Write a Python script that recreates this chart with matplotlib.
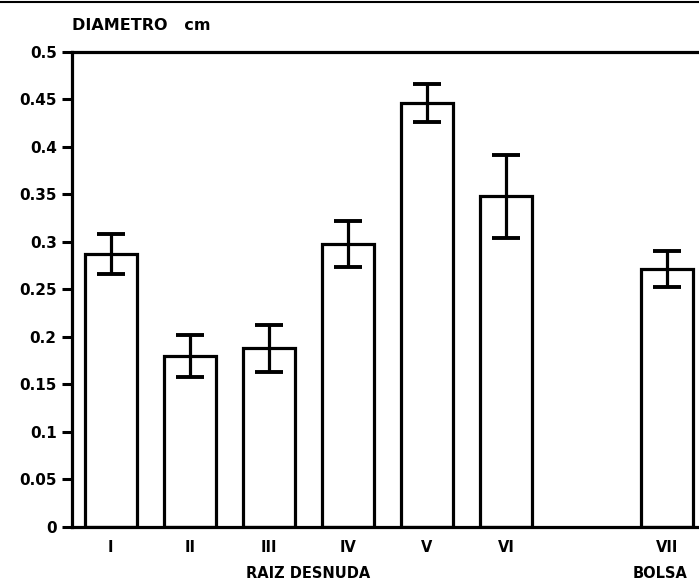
# DIAMETRO DE PLANTAS SEGUN TRATAMIENTO
# BARRAS CON ERROR ESTANDAR

import numpy as np
import matplotlib.pyplot as plt
from matplotlib.lines import Line2D

# DATOS

tratamientos = ["I", "II", "III", "IV", "V", "VI", "VII"]

posiciones = [0, 1, 2, 3, 4, 5, 7.04]

diametro = [0.287, 0.180, 0.188, 0.298, 0.446, 0.348, 0.272]

error = [0.021, 0.022, 0.025, 0.024, 0.020, 0.044, 0.019]

ticks_y = [0, 0.05, 0.1, 0.15, 0.2, 0.25, 0.3, 0.35, 0.4, 0.45, 0.5]

etiquetas_y = ["0", "0.05", "0.1", "0.15", "0.2", "0.25", "0.3",
               "0.35", "0.4", "0.45", "0.5"]

grupos = [("RAIZ DESNUDA", 2.5), ("BOLSA", 6.95)]

# FIGURA

fig = plt.figure(figsize=(6.99, 5.82), dpi=100)

ax = fig.add_axes([0.103, 0.0945, 0.897, 0.8162])

plt.rcParams['font.weight'] = 'bold'

ax.bar(
    posiciones,
    diametro,
    width=0.66,
    color='white',
    edgecolor='black',
    linewidth=2.3,
    zorder=2
)

ax.errorbar(
    posiciones,
    diametro,
    yerr=error,
    fmt='none',
    ecolor='black',
    elinewidth=2.3,
    capsize=10,
    capthick=2.8,
    zorder=3
)

# EJES

ax.set_xlim(-0.49, 7.44)
ax.set_ylim(0, 0.5)

ax.set_yticks(ticks_y)
ax.set_yticklabels(etiquetas_y, fontsize=11, fontweight='heavy')

ax.set_xticks(posiciones)
ax.set_xticklabels(tratamientos, fontsize=10.5, fontweight='heavy')

ax.tick_params(axis='y', direction='out', length=7, width=2.2, pad=4)
ax.tick_params(axis='x', length=0, pad=9)

for lado in ['left', 'bottom', 'top']:
    ax.spines[lado].set_linewidth(2.3)

ax.spines['right'].set_visible(False)

# ETIQUETAS DE GRUPO

for texto, x in grupos:

    ax.text(
        x,
        -0.098,
        texto,
        ha='center',
        va='center',
        fontsize=10.5,
        fontweight='heavy',
        transform=ax.get_xaxis_transform()
    )

fig.text(
    0.103,
    0.957,
    "DIAMETRO   cm",
    ha='left',
    va='center',
    fontsize=11.5,
    fontweight='heavy'
)

# MARCO SUPERIOR

fig.add_artist(
    Line2D([0, 1], [0.997, 0.997], color='black', linewidth=1.5,
           transform=fig.transFigure)
)

fig.savefig("out.png", dpi=100)
